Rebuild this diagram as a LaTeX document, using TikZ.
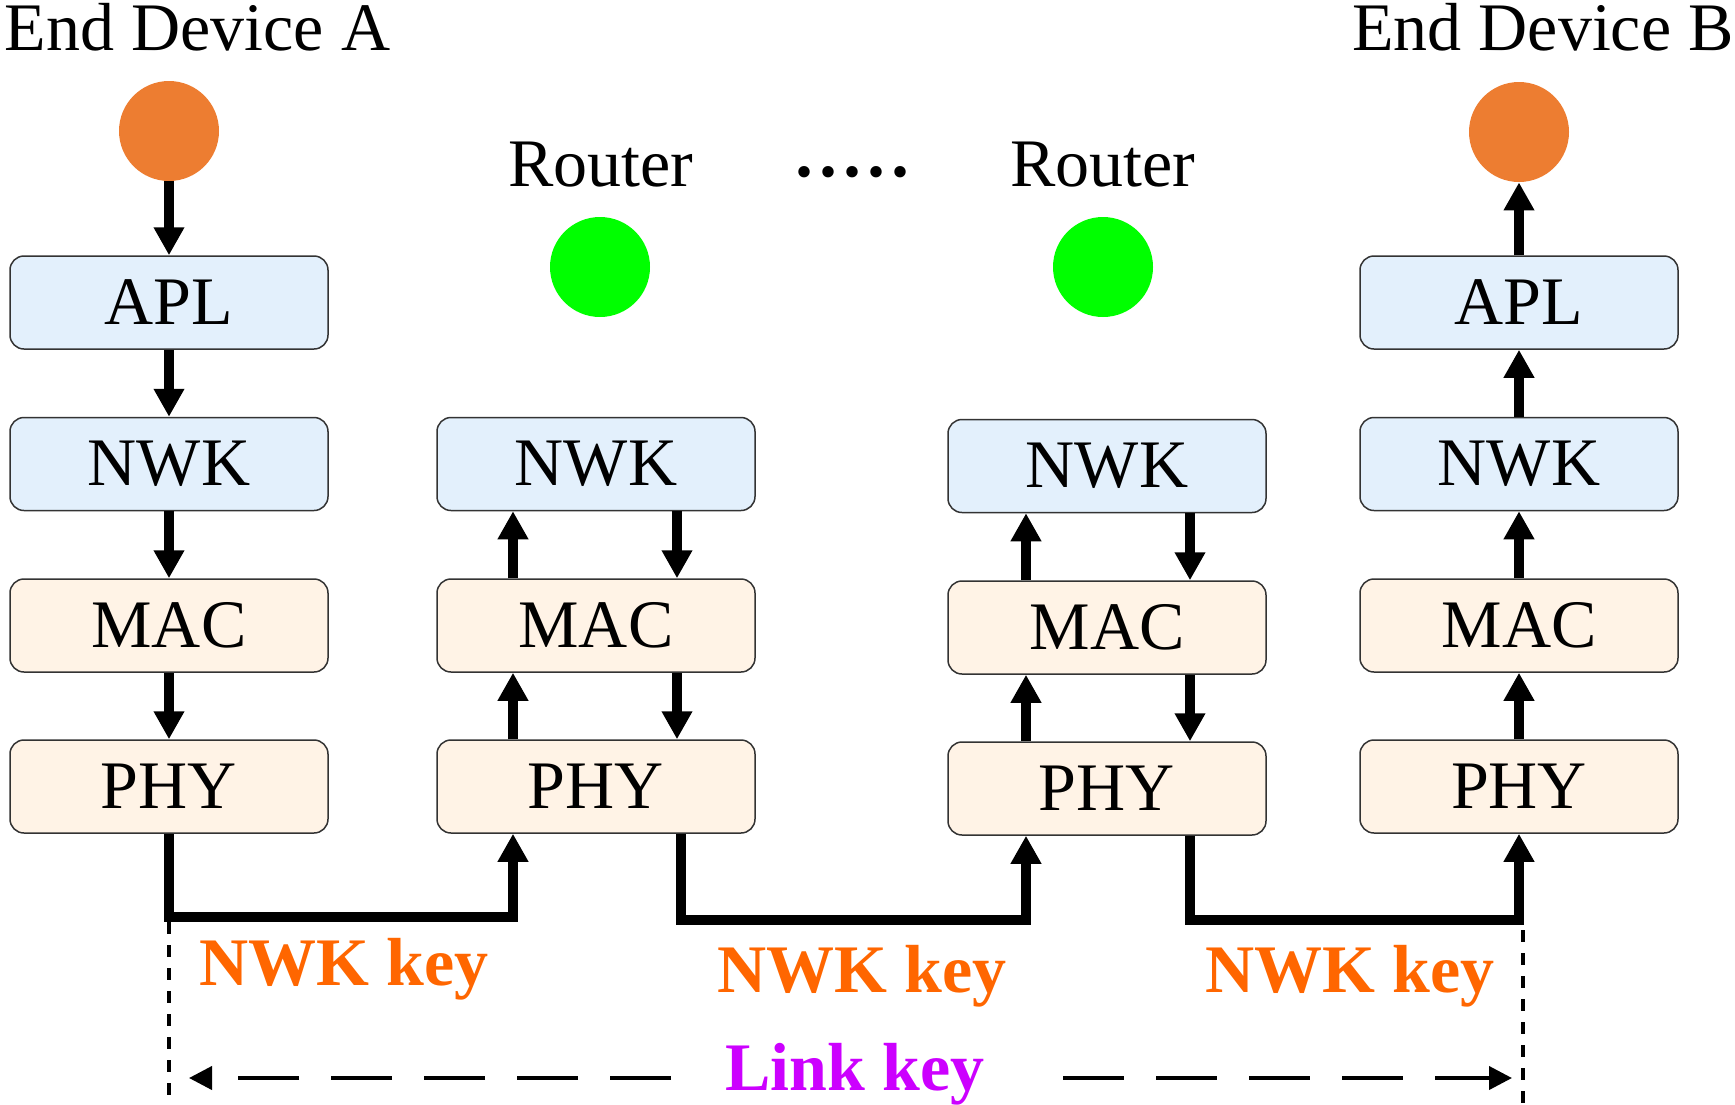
\documentclass[tikz,border=0pt]{standalone}
\usepackage{fontspec}
\setmainfont{Liberation Serif}
\usetikzlibrary{arrows.meta}

\definecolor{layerblue}{HTML}{E3F0FC}
\definecolor{layerpeach}{HTML}{FFF3E6}
\definecolor{devorange}{HTML}{ED7D31}
\definecolor{routergreen}{HTML}{00FF00}
\definecolor{keyorange}{HTML}{FF6600}
\definecolor{keypurple}{HTML}{CC00FF}

\begin{document}
\begin{tikzpicture}[x=0.5pt,y=-0.5pt,
  layer/.style={draw=black!80, line width=0.75pt, rounded corners=7pt,
    minimum width=159pt, minimum height=46.5pt, inner sep=0pt,
    font=\fontsize{34}{40}\selectfont},
  upper/.style={layer, fill=layerblue},
  lower/.style={layer, fill=layerpeach},
  dev/.style={circle, fill=devorange, minimum size=50pt, inner sep=0pt},
  rtr/.style={circle, fill=routergreen, minimum size=50pt, inner sep=0pt},
  title/.style={inner sep=0pt, font=\fontsize{34}{40}\selectfont},
  keylabel/.style={inner sep=0pt, anchor=base west, font=\fontsize{34}{40}\selectfont\bfseries},
  flow/.style={line width=4.75pt, -{Triangle[length=14pt,width=14.5pt]}},
  boundary/.style={line width=2pt, dash pattern=on 6pt off 5.5pt},
  e2e/.style={line width=2pt, dash pattern=on 30.5pt off 16pt,
    -{Triangle[length=11.5pt,width=11.5pt]}},
]
\useasboundingbox (0,0) rectangle (1735,1104);

% titles
\node[title, anchor=base west] (tA) at (4.5,50) {End Device A};
\node[title, anchor=base east] (tB) at (1734,50) {End Device B};
\node[title, anchor=base] (tR1) at (601,186) {Router};
\node[title, anchor=base] (tR2) at (1103,186) {Router};
\node[inner sep=0pt, anchor=base, font=\fontsize{48}{50}\selectfont] (more) at (852,176) {.....};

% devices
\node[dev] (dA) at (169,131) {};
\node[rtr] (r1) at (600,267) {};
\node[rtr] (r2) at (1103,267) {};
\node[dev] (dB) at (1519,132) {};

% end device A stack
\node[upper] (apA) at (169,302.5) {APL};
\node[upper] (nwA) at (169,464) {NWK};
\node[lower] (maA) at (169,625.5) {MAC};
\node[lower] (phA) at (169,786.5) {PHY};

% first router stack
\node[upper] (nw1) at (596,464) {NWK};
\node[lower] (ma1) at (596,625.5) {MAC};
\node[lower] (ph1) at (596,786.5) {PHY};

% second router stack
\node[upper] (nw2) at (1107,466) {NWK};
\node[lower] (ma2) at (1107,627.5) {MAC};
\node[lower] (ph2) at (1107,788.5) {PHY};

% end device B stack
\node[upper] (apB) at (1519,302.5) {APL};
\node[upper] (nwB) at (1519,464) {NWK};
\node[lower] (maB) at (1519,625.5) {MAC};
\node[lower] (phB) at (1519,786.5) {PHY};

% downward path in device A
\draw[flow] (dA.south) -- (dA.south |- apA.north);
\draw[flow] (apA.south) -- (nwA.north);
\draw[flow] (nwA.south) -- (maA.north);
\draw[flow] (maA.south) -- (phA.north);

% relaying in the routers
\draw[flow] ([xshift=-41.5pt]ph1.north) -- ([xshift=-41.5pt]ma1.south);
\draw[flow] ([xshift=-41.5pt]ma1.north) -- ([xshift=-41.5pt]nw1.south);
\draw[flow] ([xshift=40.5pt]nw1.south) -- ([xshift=40.5pt]ma1.north);
\draw[flow] ([xshift=40.5pt]ma1.south) -- ([xshift=40.5pt]ph1.north);

\draw[flow] ([xshift=-40.5pt]ph2.north) -- ([xshift=-40.5pt]ma2.south);
\draw[flow] ([xshift=-40.5pt]ma2.north) -- ([xshift=-40.5pt]nw2.south);
\draw[flow] ([xshift=41.5pt]nw2.south) -- ([xshift=41.5pt]ma2.north);
\draw[flow] ([xshift=41.5pt]ma2.south) -- ([xshift=41.5pt]ph2.north);

% upward path in device B
\draw[flow] (phB.north) -- (maB.south);
\draw[flow] (maB.north) -- (nwB.south);
\draw[flow] (nwB.north) -- (apB.south);
\draw[flow] (apB.north) -- (apB.north |- dB.south);

% radio hops
\draw[flow] (phA.south) -- ++(0,83) -| ([xshift=-41.5pt]ph1.south);
\draw[flow] ([xshift=42.5pt]ph1.south) -- ++(0,86) -| ([xshift=-40.5pt]ph2.south);
\draw[flow] ([xshift=41.5pt]ph2.south) -- ++(0,84) -| (phB.south);

% key labels
\node[keylabel, text=keyorange] (k1) at (199,985) {NWK key};
\node[keylabel, text=keyorange] (k2) at (717,992) {NWK key};
\node[keylabel, text=keyorange] (k3) at (1205,992) {NWK key};
\node[keylabel, text=keypurple] (link) at (725,1090) {Link key};

% end-to-end boundaries
\coordinate (vA1) at (169,922);
\coordinate (vA2) at (169,1104);
\coordinate (vB1) at (1523,930);
\coordinate (vB2) at (1523,1104);
\draw[boundary] (vA1) -- (vA2);
\draw[boundary] (vB1) -- (vB2);

% link key span
\coordinate (lkL) at (671,1078);
\coordinate (lkR) at (1063,1078);
\coordinate (lA) at (189,1078);
\coordinate (lB) at (1512,1078);
\draw[e2e] (lkL) -- (lA);
\draw[e2e] (lkR) -- (lB);
\end{tikzpicture}
\end{document}
